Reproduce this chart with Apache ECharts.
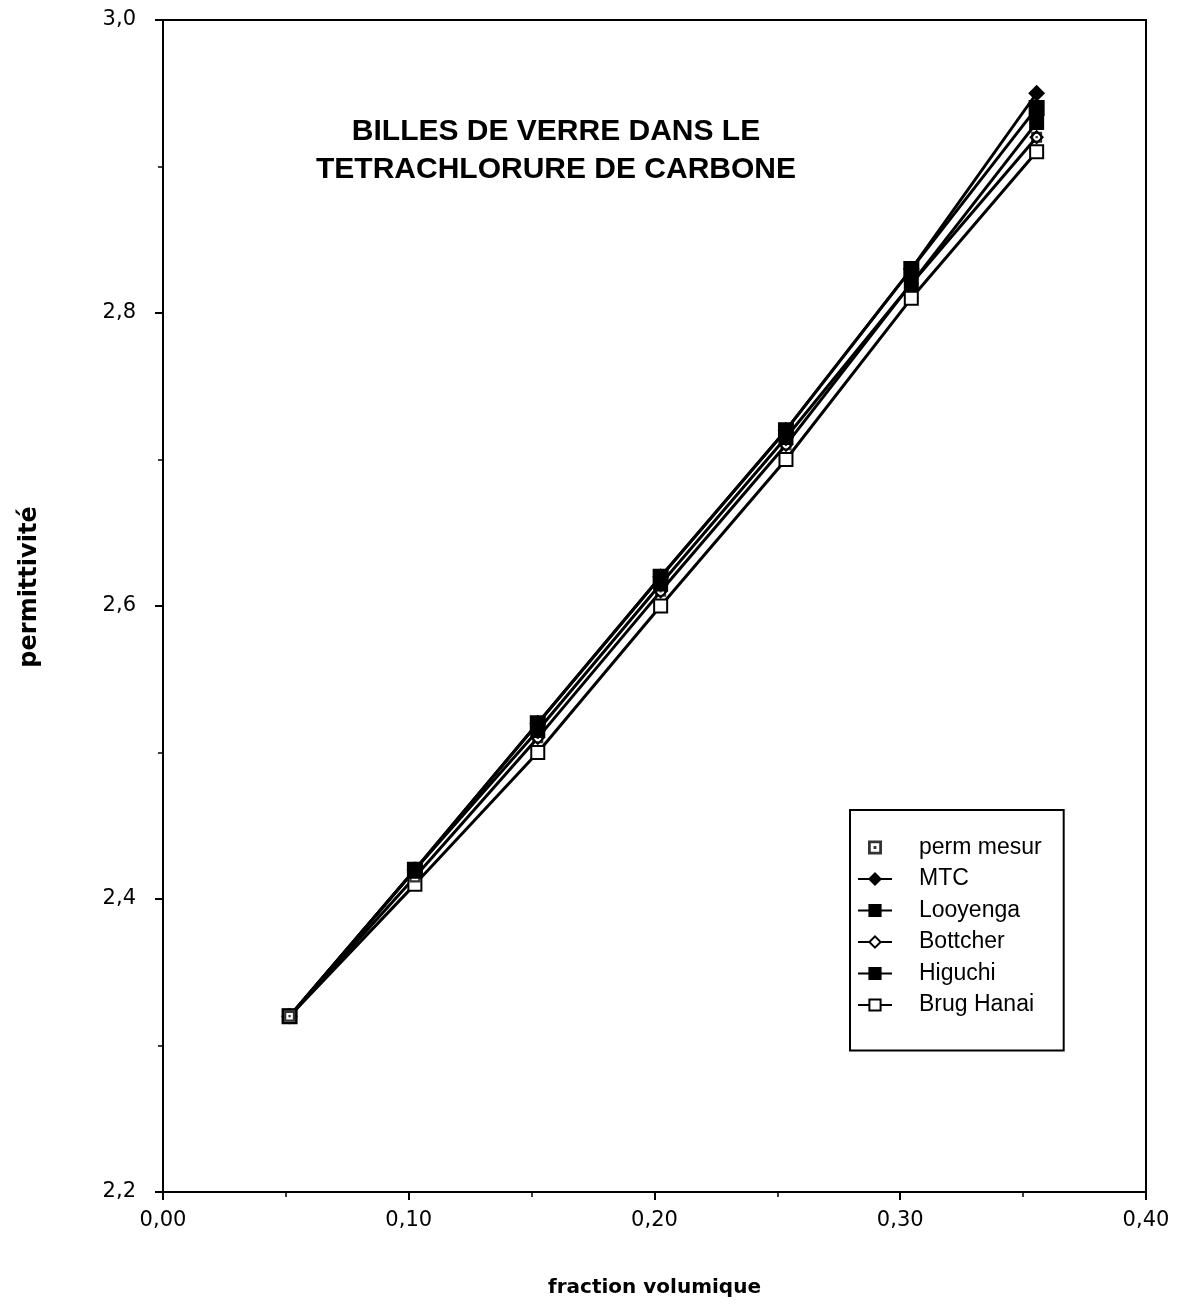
<!DOCTYPE html>
<html>
<head>
<meta charset="utf-8">
<script src="https://cdn.jsdelivr.net/npm/echarts@6/dist/echarts.min.js"></script>
<style>
html,body{margin:0;padding:0;background:#fff;}
#c{width:1192px;height:1310px;}
</style>
</head>
<body>
<div id="c"></div>
<script>
var fractions = [0.0515, 0.1025, 0.1525, 0.2025, 0.2535, 0.3045, 0.3555];
var permMesur = [2.32, 2.415, 2.51, 2.61, 2.71, 2.82, 2.92];
var mtc       = [2.32, 2.42, 2.52, 2.62, 2.72, 2.83, 2.95];
var looyenga  = [2.32, 2.42, 2.52, 2.62, 2.72, 2.83, 2.94];
var bottcher  = [2.32, 2.415, 2.51, 2.61, 2.71, 2.82, 2.92];
var higuchi   = [2.32, 2.42, 2.515, 2.615, 2.715, 2.82, 2.93];
var brugHanai = [2.32, 2.41, 2.50, 2.60, 2.70, 2.81, 2.91];
var seriesNames = ['perm mesur', 'MTC', 'Looyenga', 'Bottcher', 'Higuchi', 'Brug Hanai'];
var titleLines = ['BILLES DE VERRE DANS LE', 'TETRACHLORURE DE CARBONE'];
var xTickLabels = ['0,00', '0,10', '0,20', '0,30', '0,40'];
var yTickLabels = ['2,2', '2,4', '2,6', '2,8', '3,0'];
var xAxisTitle = 'fraction volumique';
var yAxisTitle = 'permittivité';

function pairs(ys) { return fractions.map(function (x, i) { return [x, ys[i]]; }); }

var squareDot = 'path://M0,0L10,0L10,10L0,10Z M2,2L2,8L8,8L8,2Z M4,4L6,4L6,6L4,6Z';

function lineSeries(name, ys, symbol, size, filled) {
  return {
    name: name, type: 'line', data: pairs(ys),
    symbol: symbol, symbolSize: size,
    lineStyle: { color: '#000', width: 3 },
    itemStyle: { color: filled ? '#000' : '#fff', borderColor: '#000', borderWidth: 2 },
    emphasis: { disabled: true }, animation: false, z: 3
  };
}

var chart = echarts.init(document.getElementById('c'), null, { renderer: 'canvas' });
chart.setOption({
  backgroundColor: '#fff',
  animation: false,
  title: {
    text: titleLines.join('\n'),
    left: 551, top: 108, textAlign: 'center',
    textStyle: { fontFamily: 'Liberation Sans', fontSize: 30, fontWeight: 'bold', color: '#000', lineHeight: 38 }
  },
  graphic: [{
    type: 'text', x: 30, y: 587, rotation: Math.PI / 2,
    style: {
      text: yAxisTitle, fill: '#000', font: 'bold 24px "DejaVu Sans"',
      align: 'center', verticalAlign: 'middle'
    }
  }],
  grid: { left: 163, right: 46, top: 20, bottom: 118, show: true, borderColor: '#000', borderWidth: 2, backgroundColor: 'transparent' },
  legend: {
    orient: 'vertical', left: 850, top: 810,
    padding: [26, 22, 34, 7],
    itemGap: 8.5, itemWidth: 34, itemHeight: 14,
    borderColor: '#000', borderWidth: 2,
    data: seriesNames,
    textStyle: { fontFamily: 'Liberation Sans', fontSize: 23, color: '#000', lineHeight: 20, padding: [0, 0, 0, 22] },
    selectedMode: false
  },
  xAxis: {
    type: 'value', min: 0, max: 0.4, interval: 0.1,
    name: xAxisTitle, nameLocation: 'middle', nameGap: 86,
    nameTextStyle: { fontFamily: 'DejaVu Sans', fontSize: 20, fontWeight: 'bold', color: '#000' },
    axisLine: { lineStyle: { color: '#000', width: 2 } },
    axisTick: { show: true, length: 8, lineStyle: { color: '#000', width: 2 } },
    minorTick: { show: true, splitNumber: 2, length: 5, lineStyle: { color: '#000', width: 1.5 } },
    splitLine: { show: false },
    axisLabel: {
      margin: 18, color: '#000', fontFamily: 'DejaVu Sans', fontSize: 21,
      formatter: function (v) { return xTickLabels[Math.round(v * 10)]; }
    }
  },
  yAxis: {
    type: 'value', min: 2.2, max: 3.0, interval: 0.2,
    axisLine: { lineStyle: { color: '#000', width: 2 } },
    axisTick: { show: true, length: 8, lineStyle: { color: '#000', width: 2 } },
    minorTick: { show: true, splitNumber: 2, length: 5, lineStyle: { color: '#000', width: 1.5 } },
    splitLine: { show: false },
    axisLabel: {
      margin: 27, color: '#000', fontFamily: 'DejaVu Sans', fontSize: 21,
      formatter: function (v) { return yTickLabels[Math.round((v - 2.2) * 5)]; }
    }
  },
  series: [
    {
      name: 'perm mesur', type: 'scatter', data: pairs(permMesur),
      symbol: squareDot, symbolSize: 11,
      itemStyle: { color: '#000' }, emphasis: { disabled: true }, z: 5
    },
    lineSeries('MTC', mtc, 'diamond', 14, true),
    lineSeries('Looyenga', looyenga, 'rect', 14, true),
    lineSeries('Bottcher', bottcher, 'diamond', 12, false),
    lineSeries('Higuchi', higuchi, 'rect', 13, true),
    lineSeries('Brug Hanai', brugHanai, 'rect', 13, false)
  ]
});
</script>
</body>
</html>
